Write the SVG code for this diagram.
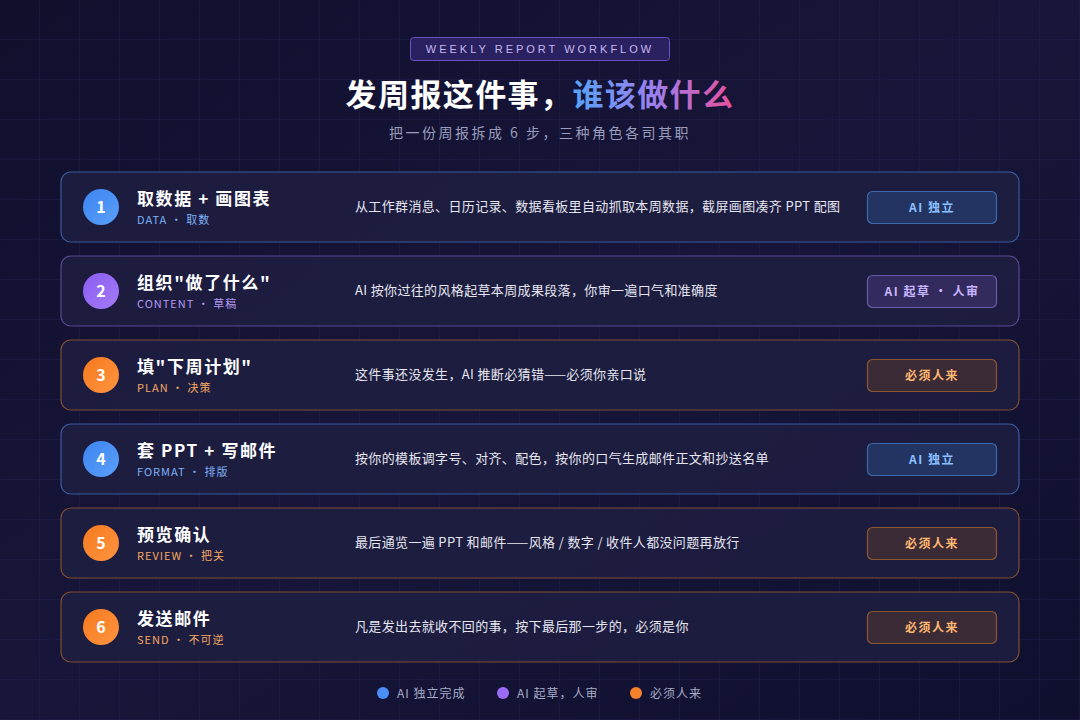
<svg xmlns="http://www.w3.org/2000/svg" width="1080" height="720" viewBox="0 0 1080 720">
<defs>
<linearGradient id="bg" x1="0" y1="0" x2="1" y2="1">
<stop offset="0" stop-color="#110f2c"/>
<stop offset="0.5" stop-color="#17163a"/>
<stop offset="1" stop-color="#0f0f2e"/>
</linearGradient>
<pattern id="grid" width="40" height="40" patternUnits="userSpaceOnUse">
<path d="M40 0V40M0 40H40" fill="none" stroke="#2a2858" stroke-width="1" opacity="0.6"/>
</pattern>
<linearGradient id="tg" gradientUnits="userSpaceOnUse" x1="573" y1="0" x2="733" y2="0">
<stop offset="0" stop-color="#55a4f8"/>
<stop offset="0.5" stop-color="#9b80f0"/>
<stop offset="1" stop-color="#e8509a"/>
</linearGradient>
<linearGradient id="gB" x1="0" y1="0" x2="1" y2="1"><stop offset="0" stop-color="#3d84f0"/><stop offset="1" stop-color="#5aa0fa"/></linearGradient>
<linearGradient id="gP" x1="0" y1="0" x2="1" y2="1"><stop offset="0" stop-color="#8a5cf0"/><stop offset="1" stop-color="#a57cf8"/></linearGradient>
<linearGradient id="gO" x1="0" y1="0" x2="1" y2="1"><stop offset="0" stop-color="#f57a1e"/><stop offset="1" stop-color="#ff9440"/></linearGradient>
</defs>
<style>
text{font-family:"Noto Sans CJK SC","Liberation Sans",sans-serif}
.card{fill:#1f1e42;fill-opacity:0.85;stroke-width:1.2}
.cB{stroke:#3a5a9c}.cP{stroke:#584892}.cO{stroke:#7e4f32}
.num{fill:#fff;font-size:16px;font-weight:700;text-anchor:middle}
.ttl{fill:#fff;font-size:17px;font-weight:700;letter-spacing:1.6px}
.sub{font-size:11px;letter-spacing:1px}
.sB{fill:#7fb2f5}.sP{fill:#b39af0}.sO{fill:#f5a860}
.desc{fill:#e6e6f0;font-size:13px;letter-spacing:0.35px}
.bdg{stroke-width:1.2}
.bB{fill:#233462;stroke:#3c69ad}.bP{fill:#332b5e;stroke:#6a58a8}.bO{fill:#3b2b36;stroke:#8b5632}
.bt{font-size:12px;font-weight:700;text-anchor:middle;letter-spacing:1.5px}
.tB{fill:#8cc0ff}.tP{fill:#c8b6ff}.tO{fill:#ffb870}
.leg{fill:#a8acc8;font-size:12px;letter-spacing:1px}
</style>
<rect width="1080" height="720" fill="url(#bg)"/>
<rect width="1080" height="720" fill="url(#grid)"/>

<g id="header">
<rect x="410.500" y="37.500" width="259" height="23" rx="3" fill="#2a2260" stroke="#6a50c0" stroke-width="1"/>
<text x="540" y="53" text-anchor="middle" font-size="11" fill="#c6b8f0" letter-spacing="3" style="font-family:'Liberation Sans',sans-serif">WEEKLY REPORT WORKFLOW</text>
<text x="540" y="106" text-anchor="middle" font-size="31" font-weight="700" letter-spacing="1.4"><tspan fill="#ffffff">发周报这件事，</tspan><tspan fill="url(#tg)">谁该做什么</tspan></text>
<text x="540" y="138" text-anchor="middle" font-size="14" fill="#9a9ebc" letter-spacing="2.5">把一份周报拆成 6 步，三种角色各司其职</text>
</g>

<g id="step1">
<rect class="card cB" x="61" y="172" width="958" height="70" rx="10"/>
<circle cx="101" cy="207" r="18" fill="url(#gB)"/>
<text class="num" x="101" y="213">1</text>
<text class="ttl" x="137" y="205">取数据 + 画图表</text>
<text class="sub sB" x="137" y="224">DATA · 取数</text>
<text class="desc" x="355" y="211">从工作群消息、日历记录、数据看板里自动抓取本周数据，截屏画图凑齐 PPT 配图</text>
<rect class="bdg bB" x="867.500" y="191.500" width="129" height="32" rx="5"/>
<text class="bt tB" x="932" y="212">AI 独立</text>
</g>

<g id="step2">
<rect class="card cP" x="61" y="256" width="958" height="70" rx="10"/>
<circle cx="101" cy="291" r="18" fill="url(#gP)"/>
<text class="num" x="101" y="297">2</text>
<text class="ttl" x="137" y="289">组织"做了什么"</text>
<text class="sub sP" x="137" y="308">CONTENT · 草稿</text>
<text class="desc" x="355" y="295">AI 按你过往的风格起草本周成果段落，你审一遍口气和准确度</text>
<rect class="bdg bP" x="867.500" y="275.500" width="129" height="32" rx="5"/>
<text class="bt tP" x="932" y="296">AI 起草 · 人审</text>
</g>

<g id="step3">
<rect class="card cO" x="61" y="340" width="958" height="70" rx="10"/>
<circle cx="101" cy="375" r="18" fill="url(#gO)"/>
<text class="num" x="101" y="381">3</text>
<text class="ttl" x="137" y="373">填"下周计划"</text>
<text class="sub sO" x="137" y="392">PLAN · 决策</text>
<text class="desc" x="355" y="379">这件事还没发生，AI 推断必猜错——必须你亲口说</text>
<rect class="bdg bO" x="867.500" y="359.500" width="129" height="32" rx="5"/>
<text class="bt tO" x="932" y="380">必须人来</text>
</g>

<g id="step4">
<rect class="card cB" x="61" y="424" width="958" height="70" rx="10"/>
<circle cx="101" cy="459" r="18" fill="url(#gB)"/>
<text class="num" x="101" y="465">4</text>
<text class="ttl" x="137" y="457">套 PPT + 写邮件</text>
<text class="sub sB" x="137" y="476">FORMAT · 排版</text>
<text class="desc" x="355" y="463">按你的模板调字号、对齐、配色，按你的口气生成邮件正文和抄送名单</text>
<rect class="bdg bB" x="867.500" y="443.500" width="129" height="32" rx="5"/>
<text class="bt tB" x="932" y="464">AI 独立</text>
</g>

<g id="step5">
<rect class="card cO" x="61" y="508" width="958" height="70" rx="10"/>
<circle cx="101" cy="543" r="18" fill="url(#gO)"/>
<text class="num" x="101" y="549">5</text>
<text class="ttl" x="137" y="541">预览确认</text>
<text class="sub sO" x="137" y="560">REVIEW · 把关</text>
<text class="desc" x="355" y="547">最后通览一遍 PPT 和邮件——风格 / 数字 / 收件人都没问题再放行</text>
<rect class="bdg bO" x="867.500" y="527.500" width="129" height="32" rx="5"/>
<text class="bt tO" x="932" y="548">必须人来</text>
</g>

<g id="step6">
<rect class="card cO" x="61" y="592" width="958" height="70" rx="10"/>
<circle cx="101" cy="627" r="18" fill="url(#gO)"/>
<text class="num" x="101" y="633">6</text>
<text class="ttl" x="137" y="625">发送邮件</text>
<text class="sub sO" x="137" y="644">SEND · 不可逆</text>
<text class="desc" x="355" y="631">凡是发出去就收不回的事，按下最后那一步的，必须是你</text>
<rect class="bdg bO" x="867.500" y="611.500" width="129" height="32" rx="5"/>
<text class="bt tO" x="932" y="632">必须人来</text>
</g>

<g id="legend">
<circle cx="383" cy="693" r="6" fill="#4a8ef5"/>
<text class="leg" x="397" y="698">AI 独立完成</text>
<circle cx="503" cy="693" r="6" fill="#9a6cf5"/>
<text class="leg" x="517" y="698">AI 起草，人审</text>
<circle cx="636" cy="693" r="6" fill="#f5822a"/>
<text class="leg" x="650" y="698">必须人来</text>
</g>
</svg>
